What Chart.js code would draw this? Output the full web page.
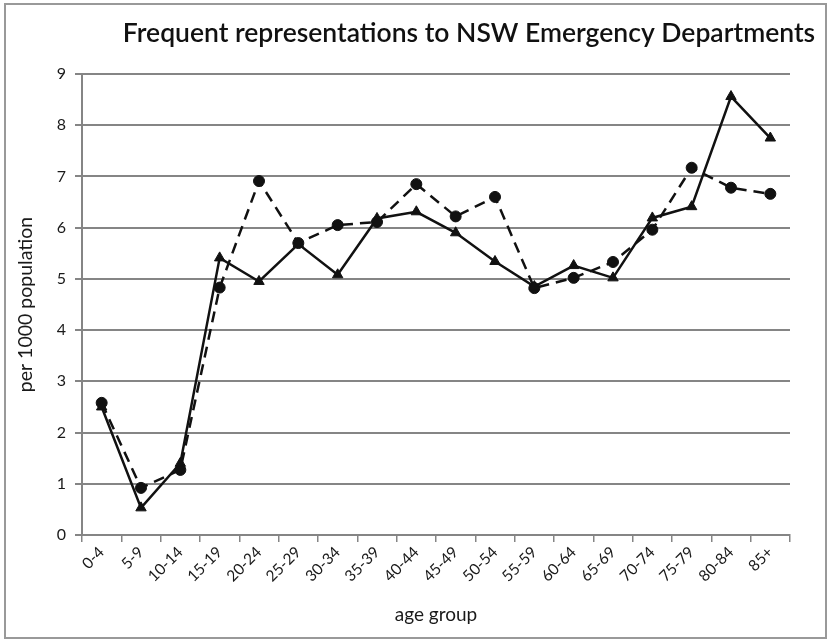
<!DOCTYPE html>
<html>
<head>
<meta charset="utf-8">
<script src="https://cdn.jsdelivr.net/npm/chart.js@4"></script>
<style>
  html, body { margin: 0; padding: 0; background: #fff; }
  #wrap { width: 829px; height: 640px; }
</style>
</head>
<body>
<div id="wrap"><canvas id="chart" width="829" height="640"></canvas></div>
<script>
const ageGroups = ['0-4', '5-9', '10-14', '15-19', '20-24', '25-29', '30-34', '35-39', '40-44',
  '45-49', '50-54', '55-59', '60-64', '65-69', '70-74', '75-79', '80-84', '85+'];

// solid line, triangle markers
const seriesTriangle = [2.5, 0.53, 1.4, 5.41, 4.95, 5.68, 5.08, 6.18, 6.31, 5.9, 5.34, 4.85, 5.26, 5.02, 6.19, 6.41, 8.56, 7.75];
// dashed line, circle markers
const seriesCircle = [2.58, 0.92, 1.27, 4.83, 6.91, 5.7, 6.05, 6.11, 6.85, 6.22, 6.6, 4.82, 5.02, 5.33, 5.96, 7.17, 6.78, 6.66];

const yTicks = [0, 1, 2, 3, 4, 5, 6, 7, 8, 9];

const chartTitle = 'Frequent representations to NSW Emergency Departments';
const fontFamily = 'Lato, "Open Sans", sans-serif';

// draws the outer frame and the title
const framePlugin = {
  id: 'frame',
  beforeDraw(chart) {
    const ctx = chart.ctx;
    ctx.save();
    ctx.fillStyle = '#fff';
    ctx.fillRect(0, 0, chart.width, chart.height);
    ctx.strokeStyle = '#999';
    ctx.lineWidth = 2;
    ctx.strokeRect(5, 4, 821, 634);
    ctx.restore();
  },
  afterDraw(chart) {
    const ctx = chart.ctx;
    ctx.save();
    ctx.fillStyle = '#111';
    ctx.font = '600 26.5px ' + fontFamily;
    ctx.textAlign = 'center';
    ctx.textBaseline = 'middle';
    ctx.fillText(chartTitle, 469, 33);
    ctx.restore();
  }
};

new Chart(document.getElementById('chart'), {
  type: 'line',
  data: {
    labels: ageGroups,
    datasets: [
      {
        label: 'triangle',
        data: seriesTriangle,
        borderColor: '#111',
        backgroundColor: '#111',
        borderWidth: 2.5,
        pointStyle: 'triangle',
        pointRadius: 6,
        pointBorderWidth: 1,
        tension: 0,
      },
      {
        label: 'circle',
        data: seriesCircle,
        borderColor: '#111',
        backgroundColor: '#111',
        borderWidth: 2.5,
        borderDash: [11, 7],
        pointStyle: 'circle',
        pointRadius: 5.5,
        pointBorderWidth: 1,
        tension: 0,
      }
    ]
  },
  options: {
    responsive: false,
    animation: false,
    layout: { padding: { left: 0, right: 39, top: 74, bottom: 14 } },
    plugins: {
      legend: { display: false },
      tooltip: { enabled: false },
    },
    scales: {
      x: {
        offset: true,
        grid: {
          offset: true,
          drawOnChartArea: false,
          drawTicks: true,
          tickLength: 7,
          color: '#858585',
          lineWidth: 1.5,
        },
        border: { color: '#858585', width: 2 },
        ticks: {
          minRotation: 45,
          maxRotation: 45,
          color: '#1a1a1a',
          font: { family: fontFamily, size: 15.5 },
          padding: 1,
        },
        title: {
          display: true,
          text: 'age group',
          color: '#1a1a1a',
          font: { family: fontFamily, size: 19 },
          padding: 0,
        },
        afterFit(scale) { scale.height = 91; },
      },
      y: {
        min: 0,
        max: 9,
        afterBuildTicks(scale) { scale.ticks = yTicks.map(v => ({ value: v })); },
        grid: {
          color: '#858585',
          lineWidth: 2,
          tickLength: 7,
        },
        border: { color: '#858585', width: 2 },
        ticks: {
          color: '#1a1a1a',
          font: { family: fontFamily, size: 16 },
          padding: 9,
        },
        title: {
          display: true,
          text: 'per 1000 population',
          color: '#1a1a1a',
          font: { family: fontFamily, size: 19.5 },
          padding: { top: 14, bottom: 0 },
        },
        afterFit(scale) { scale.width = 82; },
      }
    }
  },
  plugins: [framePlugin]
});
</script>
</body>
</html>
